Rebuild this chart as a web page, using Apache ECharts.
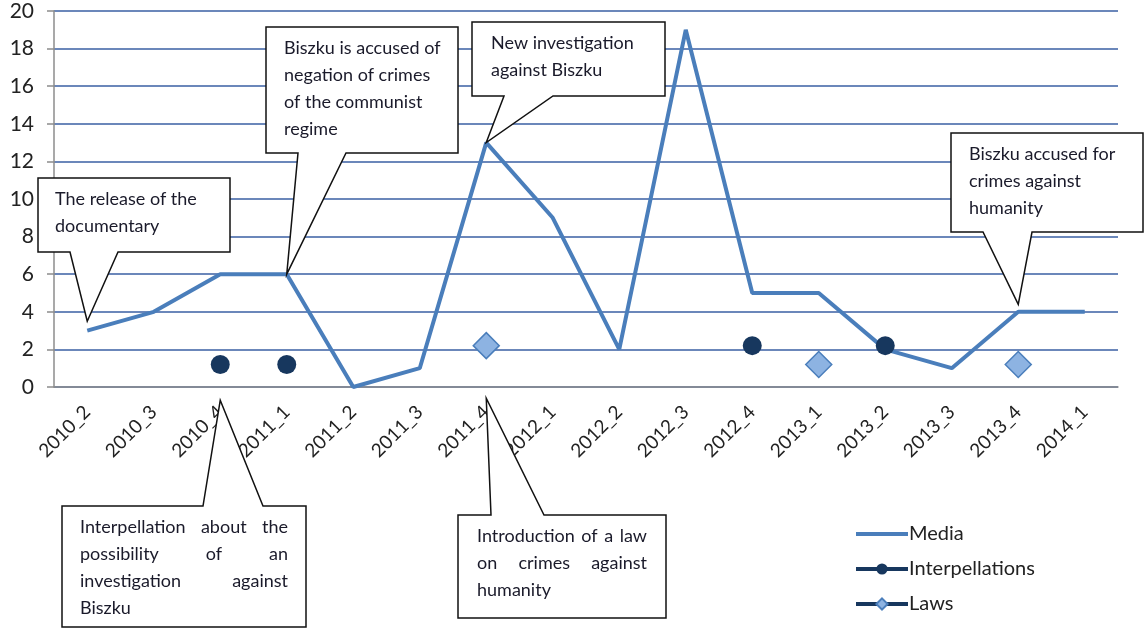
<!DOCTYPE html>
<html>
<head>
<meta charset="utf-8">
<script src="https://cdn.jsdelivr.net/npm/echarts@6/dist/echarts.min.js"></script>
<style>
  html, body { margin: 0; background: #fff; }
  #main { width: 1144px; height: 630px; }
</style>
</head>
<body>
<div id="main"></div>
<script>
// data
const categories = ['2010_2', '2010_3', '2010_4', '2011_1', '2011_2', '2011_3', '2011_4', '2012_1',
  '2012_2', '2012_3', '2012_4', '2013_1', '2013_2', '2013_3', '2013_4', '2014_1'];
const media = [3, 4, 6, 6, 0, 1, 13, 9, 2, 19, 5, 5, 2, 1, 4, 4];
const interpellations = [null, null, 1.2, 1.2, null, null, null, null, null, null, 2.2, null, 2.2, null, null, null];
const laws = [null, null, null, null, null, null, 2.2, null, null, null, null, 1.2, null, null, 1.2, null];
const yMin = 0, yMax = 20, yStep = 2;

// callout texts, anchored at [category index, value]
const notes = [
  { lines: ['The release of the', 'documentary'], anchor: [0, 3.5] },
  { lines: ['Biszku is accused of', 'negation of crimes', 'of the communist', 'regime'], anchor: [3, 6] },
  { lines: ['New investigation', 'against Biszku'], anchor: [6, 13] },
  { lines: ['Biszku accused for', 'crimes against', 'humanity'], anchor: [14, 4.4] },
  { lines: ['Interpellation about the', 'possibility of an', 'investigation against', 'Biszku'], anchor: [2, -0.7], justify: true },
  { lines: ['Introduction of a law', 'on crimes against', 'humanity'], anchor: [6, -0.6], justify: true }
];
// box layout for each callout: [left, top, right, bottom], pointer base x's, side of pointer
const boxes = [
  { r: [38, 178, 230, 252], base: [70, 118], side: 'bottom', pad: 17 },
  { r: [266, 27, 458, 153], base: [298, 346], side: 'bottom', pad: 18 },
  { r: [472, 22, 665, 96], base: [504, 553], side: 'bottom', pad: 19 },
  { r: [951, 133, 1143, 232], base: [983, 1032], side: 'bottom', pad: 18 },
  { r: [62, 506, 306, 627], base: [203, 263], side: 'top', pad: 18 },
  { r: [458, 515, 666, 618], base: [491, 544], side: 'top', pad: 19 }
];

const FONT = 'Lato, "Open Sans", sans-serif';
const NOTE_SIZE = 18;

var myChart = echarts.init(document.getElementById('main'));

var option = {
  animation: false,
  backgroundColor: '#fff',
  grid: { left: 54, right: 26, top: 11, bottom: 243 },
  xAxis: {
    type: 'category',
    data: categories,
    boundaryGap: true,
    axisLine: { lineStyle: { color: '#8c8c8c', width: 1.5 } },
    axisTick: { length: 7, lineStyle: { color: '#8c8c8c', width: 1.5 } },
    axisLabel: { rotate: 45, margin: 22, fontSize: 19, color: '#222', fontFamily: FONT }
  },
  yAxis: {
    type: 'value',
    min: yMin, max: yMax, interval: yStep,
    axisLine: { show: true, lineStyle: { color: '#8c8c8c', width: 1.5 } },
    axisTick: { show: true, length: 7, lineStyle: { color: '#8c8c8c', width: 1.5 } },
    axisLabel: { fontSize: 21, color: '#222', fontFamily: FONT, margin: 20 },
    splitLine: { lineStyle: { color: '#3a5fa3', width: 1.5 } }
  },
  legend: {
    orient: 'vertical',
    left: 849, top: 519,
    itemWidth: 52, itemHeight: 14, itemGap: 15,
    textStyle: { fontSize: 20, color: '#222', fontFamily: FONT, padding: [0, 0, 0, -4] },
    data: [
      { name: 'Media', itemStyle: { opacity: 0 }, lineStyle: { width: 4, color: '#4a7ebb' } },
      { name: 'Interpellations', lineStyle: { opacity: 1, width: 4, color: '#17375e' } },
      { name: 'Laws', lineStyle: { opacity: 1, width: 4, color: '#17375e' } }
    ]
  },
  series: [
    {
      name: 'Media', type: 'line', data: media,
      symbol: 'none',
      lineStyle: { color: '#4a7ebb', width: 4 },
      itemStyle: { color: '#4a7ebb' }
    },
    {
      name: 'Interpellations', type: 'line', data: interpellations,
      symbol: 'circle', symbolSize: 19,
      lineStyle: { opacity: 0 },
      itemStyle: { color: '#17375e' }
    },
    {
      name: 'Laws', type: 'line', data: laws,
      symbol: 'diamond', symbolSize: 26,
      lineStyle: { opacity: 0 },
      itemStyle: { color: '#8db3e2', borderColor: '#4a7ebb', borderWidth: 1.5 }
    }
  ]
};

myChart.setOption(option);

// callouts drawn on top
var ctx = document.createElement('canvas').getContext('2d');
ctx.font = NOTE_SIZE + 'px ' + FONT;

var elements = [];
notes.forEach(function (note, i) {
  var b = boxes[i];
  var tip = myChart.convertToPixel({ gridIndex: 0 }, note.anchor);
  var x0 = b.r[0], y0 = b.r[1], x1 = b.r[2], y1 = b.r[3];
  var pts;
  if (b.side === 'bottom') {
    pts = [[x0, y0], [x1, y0], [x1, y1], [b.base[1], y1], tip, [b.base[0], y1], [x0, y1]];
  } else {
    pts = [[x0, y0], [b.base[0], y0], tip, [b.base[1], y0], [x1, y0], [x1, y1], [x0, y1]];
  }
  elements.push({
    type: 'polygon', z: 100,
    shape: { points: pts },
    style: { fill: '#fff', stroke: '#111', lineWidth: 1.5 }
  });
  var left = x0 + b.pad, right = x1 - b.pad;
  note.lines.forEach(function (line, k) {
    var cy = y0 + 21 + k * 27;
    var words = line.split(' ');
    var last = k === note.lines.length - 1;
    if (note.justify && !last && words.length > 1) {
      var widths = words.map(function (w) { return ctx.measureText(w).width; });
      var total = widths.reduce(function (a, c) { return a + c; }, 0);
      var gap = (right - left - total) / (words.length - 1);
      if (gap < 3) gap = 3;
      var x = left;
      words.forEach(function (w, j) {
        elements.push({
          type: 'text', z: 101, x: x, y: cy,
          style: { text: w, font: NOTE_SIZE + 'px ' + FONT, fill: '#1a1a2a', textVerticalAlign: 'middle' }
        });
        x += widths[j] + gap;
      });
    } else {
      elements.push({
        type: 'text', z: 101, x: left, y: cy,
        style: { text: line, font: NOTE_SIZE + 'px ' + FONT, fill: '#1a1a2a', textVerticalAlign: 'middle' }
      });
    }
  });
});

myChart.setOption({ graphic: elements });
</script>
</body>
</html>
